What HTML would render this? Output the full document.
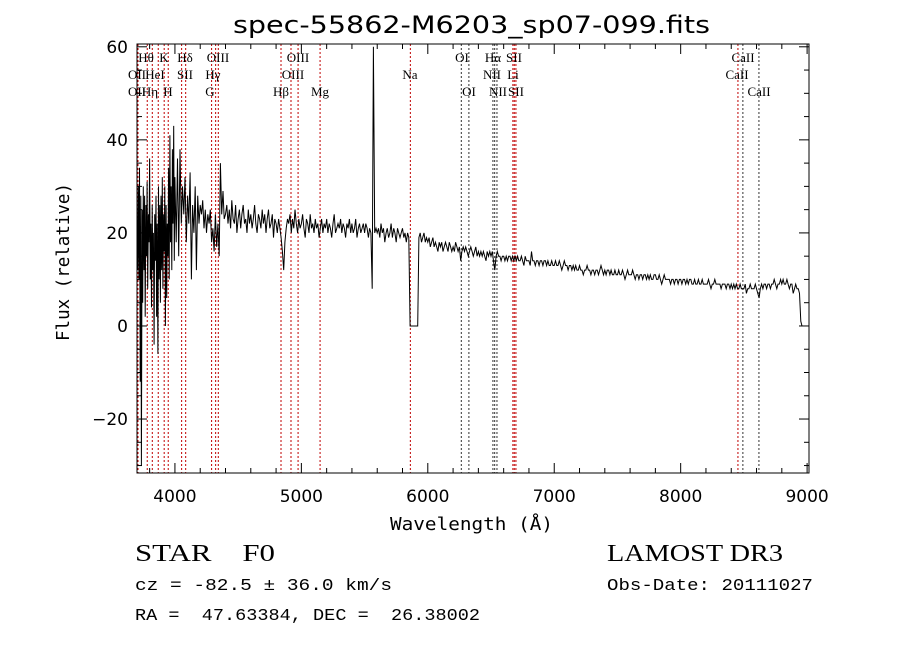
<!DOCTYPE html>
<html><head><meta charset="utf-8"><style>
body{margin:0;background:#fff;}
svg{display:block;}
text{fill:#000;white-space:pre;}
</style></head><body>
<svg id="chart" width="900" height="649" viewBox="0 0 900 649" xmlns="http://www.w3.org/2000/svg" xml:space="preserve">
<rect width="900" height="649" fill="#fff"/>
<text x="233" y="33" textLength="477" lengthAdjust="spacingAndGlyphs" font-family="DejaVu Sans, sans-serif" font-size="24">spec-55862-M6203_sp07-099.fits</text>
<g id="lines"></g>
<g id="labels" font-family="Liberation Serif, serif" font-size="13" text-anchor="middle"></g>
<path id="spec" fill="none" stroke="#000" stroke-width="1"/>
<rect x="137" y="44" width="672" height="429" fill="none" stroke="#000" stroke-width="1"/>
<g id="ticks" stroke="#000" stroke-width="1"></g>
<g id="ticklabels" font-family="DejaVu Sans, sans-serif" font-size="17"></g>
<text x="390" y="530" textLength="163" lengthAdjust="spacingAndGlyphs" font-family="DejaVu Sans Mono, monospace" font-size="18">Wavelength (Å)</text>
<text transform="translate(69,341) rotate(-90)" textLength="158" lengthAdjust="spacingAndGlyphs" font-family="DejaVu Sans Mono, monospace" font-size="18">Flux (relative)</text>
<text x="135" y="561" textLength="140" lengthAdjust="spacingAndGlyphs" font-family="Liberation Serif, serif" font-size="24">STAR    F0</text>
<text x="607" y="561" textLength="176" lengthAdjust="spacingAndGlyphs" font-family="Liberation Serif, serif" font-size="24">LAMOST DR3</text>
<text x="135" y="590" textLength="257" lengthAdjust="spacingAndGlyphs" font-family="Liberation Mono, monospace" font-size="17">cz = -82.5 ± 36.0 km/s</text>
<text x="607" y="590" textLength="206" lengthAdjust="spacingAndGlyphs" font-family="Liberation Mono, monospace" font-size="17">Obs-Date: 20111027</text>
<text x="135" y="620" textLength="345" lengthAdjust="spacingAndGlyphs" font-family="Liberation Mono, monospace" font-size="17">RA =  47.63384, DEC =  26.38002</text>
</svg>
<script>
// Blue region (dense noise), explicit wavelength/flux pairs
const waveBlue = [3705,3710,3715,3720,3725,3730,3735,3740,3745,3750,3755,3760,3765,3770,3775,3780,3785,3790,3795,3800,3805,3810,3815,3820,3825,3830,3835,3840,3845,3850,3855,3860,3865,3870,3875,3880,3885,3890,3895,3900,3905,3910,3915,3920,3925,3930,3935,3940,3945,3950,3955,3960,3965,3970,3975,3980,3985,3990,3995,
4000,4010,4020,4030,4040,4050,4060,4070,4080,4090,4100,4110,4120,4130,4140,4150,4160,4170,4180,4190,4200,4210,4220,4230,4240,4250,4260,4270,4280,4290,4300,4310,4320,4330,4340,4350,4360,4370,4380,4390];
const fluxBlue = [12,30,10,34,-12,28,-30,25,5,30,12,28,2,26,15,31,8,24,18,36,10,22,4,26,12,20,-4,24,14,28,2,22,-6,30,10,26,5,28,12,32,8,24,16,30,0,26,6,22,15,34,10,41,18,30,12,38,22,43,14,
32,18,36,15,38,22,30,24,32,18,28,22,33,10,26,20,30,12,28,22,26,24,27,21,25,20,24,22,25,18,21,16,24,17,22,15,35,24,29,23];
// Red region: 4400..8960 step 10 Å
const waveRedStart = 4400, waveRedStep = 10;
const fluxRed = [
24,26,22,25,21,27,23,22,26,20,
23,25,21,24,26,22,23,20,25,22,
24,21,23,26,22,20,24,23,21,25,
22,24,20,23,25,21,22,24,19,23,
22,20,23,21,19,16,12,18,21,23,
22,24,20,23,21,25,22,20,23,21,
22,24,21,19,23,22,20,24,21,22,
20,23,21,22,19,21,23,20,22,21,
23,20,22,21,19,22,24,20,21,22,
21,23,20,22,21,19,22,21,23,20,
22,20,21,23,19,21,22,20,21,22,
20,22,21,19,21,20,8,60,20,21,
20,21,19,22,20,21,18,20,21,19,
20,22,19,21,20,18,21,20,19,20,
21,19,20,18,20,19,0,0,0,0,
0,0,0,19,20,18,19,20,18,19,
18,19,17,18,19,17,18,17,16,18,
17,18,16,17,18,17,16,18,17,16,
17,16,18,17,16,17,14,16,17,16,
17,16,15,16,17,16,15,16,17,15,
16,15,16,15,16,15,14,16,15,16,
15,16,14,12,15,16,15,15,14,15,
15,14,15,14,15,15,14,15,14,15,
14,15,14,14,15,14,13,15,14,14,
14,13,16,14,14,13,14,14,13,14,
14,13,14,14,13,14,13,13,14,13,
13,14,13,13,14,13,12,13,14,13,
13,12,13,13,12,13,12,13,12,12,
13,12,12,11,12,12,13,12,12,11,
12,12,11,12,12,11,12,13,12,11,
12,11,12,12,11,12,11,11,12,11,
11,12,11,11,12,11,10,11,12,11,
11,11,12,11,10,11,11,10,11,11,
10,11,11,10,11,10,11,10,10,11,
11,10,10,11,10,9,10,11,10,10,
10,10,9,10,10,9,10,10,9,10,
10,9,10,10,9,10,9,10,10,9,
9,10,9,9,10,9,9,10,9,9,
9,9,10,9,8,9,9,10,9,9,
9,9,8,9,9,9,8,9,9,8,
9,8,9,8,9,8,8,9,8,8,
8,9,7,8,8,9,8,8,8,9,
8,7,6,8,9,8,9,9,8,9,
9,8,9,9,10,9,8,9,9,10,
9,10,9,9,10,9,8,9,9,7,
8,9,8,8,7,1,0];
const waveRed = fluxRed.map((_, i) => waveRedStart + i*waveRedStep);
const wave = waveBlue.concat(waveRed);
const flux = fluxBlue.concat(fluxRed);

const lineWave = [3708,3781,3821,3868,3915,3947,4053,4085,4290,4322,4343,4839,4918,4974,5148,5862,6265,6325,6515,6529,6547,6673,6684,6697,8453,8492,8619];
const lineRed = [1,1,1,1,1,1,1,1,1,1,1,1,1,1,1,1,0,0,0,0,0,1,1,1,1,0,0];
const labelText = ["Hθ","K","Hδ","OIII","OIII","OII","HeI","SII","Hγ","OIII","Na","OII","Hη","H","G","Hβ","Mg","OI","Hα","SII","NII","Li","OI","NII","SII","CaII","CaII","CaII"];
const labelX = [146,164,185,218,298,137,155,185,213,293,410,137,150,168,210,281,320,462,493,514,492,513,469,498,516,743,737,759];
const labelRow = [0,0,0,0,0,1,1,1,1,1,1,2,2,2,2,2,2,0,0,0,1,1,2,2,2,0,1,2];
const xTicks = [4000,5000,6000,7000,8000,9000];
const yTicks = [-20,0,20,40,60];

const X0=137,X1=809,Y0=44,Y1=473,WMIN=3700,WMAX=9015,FMIN=-31.6,FMAX=60.6;
const sx = w => X0 + (w-WMIN)/(WMAX-WMIN)*(X1-X0);
const sy = f => Y1 - (f-FMIN)/(FMAX-FMIN)*(Y1-Y0);
const NS='http://www.w3.org/2000/svg';
function mk(tag, attrs, parent){const e=document.createElementNS(NS,tag);for(const k in attrs)e.setAttribute(k,attrs[k]);parent.appendChild(e);return e;}

let d='';
for(let i=0;i<wave.length;i++){d+=(i?'L':'M')+sx(wave[i]).toFixed(1)+','+Math.max(Y0,Math.min(Y1,sy(flux[i]))).toFixed(1);}
document.getElementById('spec').setAttribute('d',d);

const lg=document.getElementById('lines');
lineWave.forEach((w,i)=>{
  const l=mk('line',{x1:sx(w),x2:sx(w),y1:Y0,y2:Y1,stroke:lineRed[i]?'#c00000':'#333','stroke-width':1,'stroke-dasharray':'2,2'},lg);
  
  
});
const lb=document.getElementById('labels');
labelText.forEach((t,i)=>{
  const e=mk('text',{x:labelX[i],y:62+labelRow[i]*17},lb);e.textContent=t;
  
  
});
const tg=document.getElementById('ticks'), tl=document.getElementById('ticklabels');
for(let w=3800;w<=9000;w+=200){
  const major=w%1000===0, len=major?10:5;
  mk('line',{x1:sx(w),x2:sx(w),y1:Y1,y2:Y1-len},tg);
  mk('line',{x1:sx(w),x2:sx(w),y1:Y0,y2:Y0+len},tg);
}
for(let f=-30;f<=60;f+=5){
  const major=f%20===0, len=major?10:5;
  mk('line',{x1:X0,x2:X0+len,y1:sy(f),y2:sy(f)},tg);
  mk('line',{x1:X1,x2:X1-len,y1:sy(f),y2:sy(f)},tg);
}
xTicks.forEach(w=>{const e=mk('text',{x:sx(w),y:502,'text-anchor':'middle'},tl);e.textContent=w;
  
  });
yTicks.forEach(f=>{const e=mk('text',{x:128,y:sy(f)+6,'text-anchor':'end'},tl);e.textContent=f<0?'−'+(-f):f;
  
  });
</script>
</body></html>
